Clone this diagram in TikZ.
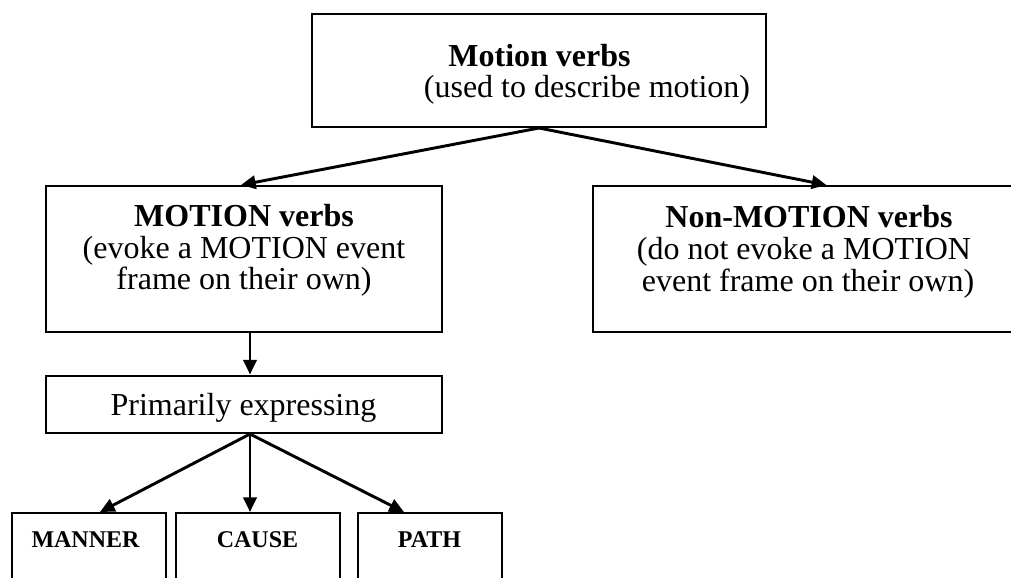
\documentclass[tikz,border=0pt]{standalone}
\usepackage{fontspec}
\setmainfont{Liberation Serif}
\usetikzlibrary{arrows.meta,calc}
\begin{document}
\begin{tikzpicture}[x=0.375pt,y=-0.375pt,
  box/.style={draw,line width=0.75pt,inner sep=0pt,rectangle},
  txt/.style={anchor=base,inner sep=0pt,font=\fontsize{12}{14}\selectfont},
  btxt/.style={txt,font=\fontsize{12}{14}\selectfont\bfseries},
  stxt/.style={txt,font=\fontsize{9}{11}\selectfont\bfseries},
  conn/.style={line width=1.1pt,-{Triangle[length=5.5pt,width=5pt]}}]
\useasboundingbox (0,0) rectangle (1011,577);
\clip (0,0) rectangle (1011,577);
% boxes
\node[box,minimum width=170.25pt,minimum height=42.375pt] (top) at (539,70.5) {};
\node[box,minimum width=148.5pt,minimum height=54.75pt] (motion) at (244,259) {};
\node[box,minimum width=162pt,minimum height=54.75pt] (non) at (809,259) {};
\node[box,minimum width=148.5pt,minimum height=21.5625pt] (prim) at (244,404.25) {};
\node[box,minimum width=57.75pt,minimum height=32.625pt] (manner) at (89,556.5) {};
\node[box,minimum width=61.5pt,minimum height=32.625pt] (cause) at (258,556.5) {};
\node[box,minimum width=54pt,minimum height=32.625pt] (path) at (430,556.5) {};
% texts
\node[btxt] (t1) at (539.5,66) {Motion verbs};
\node[txt] (t2) at (587,97) {(used to describe motion)};
\node[btxt] (m1) at (244,226) {MOTION verbs};
\node[txt] (m2) at (244,258) {(evoke a MOTION event};
\node[txt] (m3) at (244,289) {frame on their own)};
\node[btxt] (n1) at (809,227) {Non-MOTION verbs};
\node[txt] (n2) at (804,259) {(do not evoke a MOTION};
\node[txt] (n3) at (808,291) {event frame on their own)};
\node[txt] (p1) at (243.5,415) {Primarily expressing};
\node[stxt] (b1) at (85.5,547) {MANNER};
\node[stxt] (b2) at (257.5,547) {CAUSE};
\node[stxt] (b3) at (429.5,547) {PATH};
% connectors
\draw[conn] (top.south) -- ($(motion.north)+(-3,0)$);
\draw[conn] (top.south) -- ($(non.north west)!0.54!(non.north east)$);
\draw[conn] ($(motion.south)+(6,0)$) -- ($(prim.north)+(6,0)$);
\draw[conn] ($(prim.south)+(6,0)$) -- ($(manner.north)+(11,0)$);
\draw[conn] ($(prim.south)+(6,0)$) -- ($(cause.north)+(-8,0)$);
\draw[conn] ($(prim.south)+(6,0)$) -- ($(path.north)+(-26,0)$);
\end{tikzpicture}
\end{document}
